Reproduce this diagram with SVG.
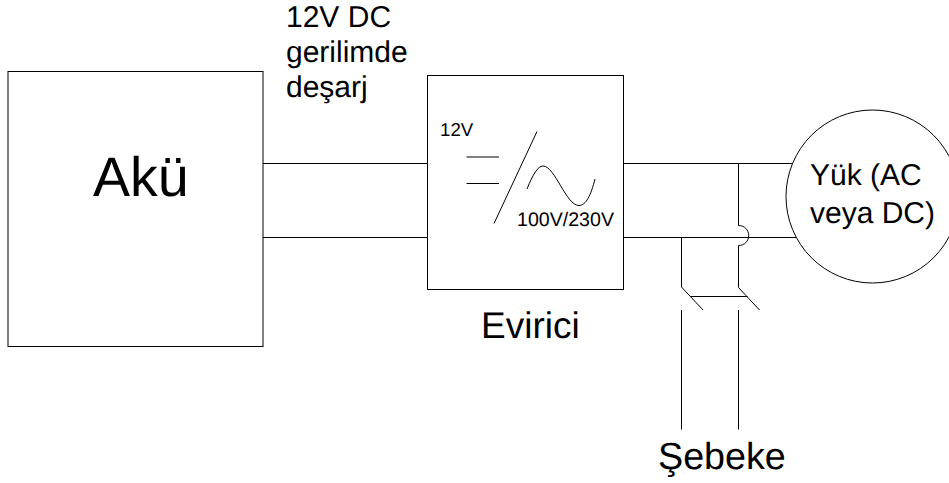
<svg xmlns="http://www.w3.org/2000/svg" width="949" height="483" viewBox="0 0 949 483">
<style>
.s{fill:none;stroke:#000;stroke-width:1}
.w{fill:#fff;stroke:#000;stroke-width:1}
text{font-family:"Liberation Sans",Arial,sans-serif;fill:#000;text-rendering:geometricPrecision}
</style>
<rect width="949" height="483" fill="#fff"/>
<g id="connectors">
<path class="s" d="M263 163.500H428M263 237.500H428"/>
<path class="s" d="M624 163.500H800M624 237.500H800"/>
<path class="s" d="M738.500 163.500V225.500C744.500 225.500 748.700 230 748.700 235.500C748.700 241 744.500 245.500 738.500 245.500V287.500L759.500 310"/>
<path class="s" d="M681.500 237.500V287L703 310M691 296.500H747.500"/>
<path class="s" d="M681.500 310V429.500M738.500 310V429.500"/>
</g>
<g id="battery">
<rect class="w" x="8" y="71.500" width="255" height="275"/>
<text x="93" y="196" font-size="55.500">Akü</text>
</g>
<g id="inverter">
<rect class="w" x="427.500" y="75.500" width="196" height="214"/>
<path class="s" d="M466.500 157H499M466.500 183.500H499M494 223.500L537 131.500M527 189C533 174 538 166 543 166C555 166 566 205.500 579 205.500C586 205.500 591 195 595 179"/>
<text x="440" y="136" font-size="18.700">12V</text>
<text x="517" y="226" font-size="19.600">100V/230V</text>
<text x="481" y="338" font-size="37">Evirici</text>
</g>
<g id="load">
<circle class="w" cx="872.500" cy="196.500" r="86.500"/>
<text x="810" y="185" font-size="30">Yük (AC</text>
<text x="810" y="223" font-size="30">veya DC)</text>
</g>
<g id="labels">
<text x="286" y="27" font-size="30">12V DC</text>
<text x="286" y="62" font-size="30">gerilimde</text>
<text x="286" y="97" font-size="30">deşarj</text>
<text x="658" y="469" font-size="37.700">Şebeke</text>
</g>
</svg>
